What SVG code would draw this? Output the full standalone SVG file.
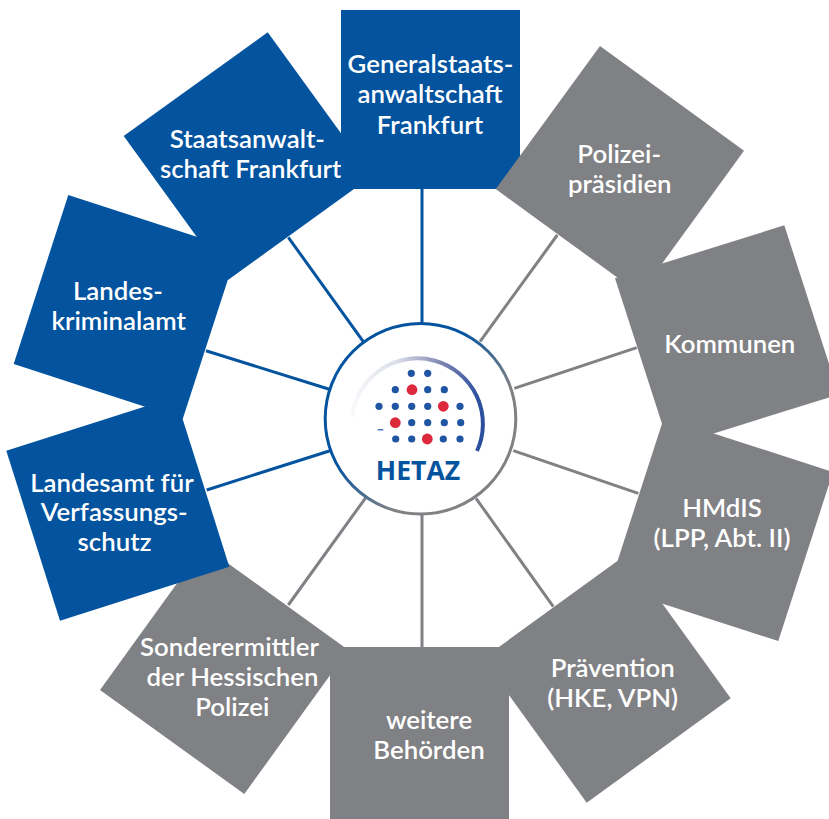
<svg xmlns="http://www.w3.org/2000/svg" width="829" height="819" viewBox="0 0 829 819">
<style>
.b{fill:#03539f}.g{fill:#808184}
.t{font-family:"Lato","Noto Sans",sans-serif;font-size:25.8px;font-weight:600;fill:#fff;text-anchor:middle}
.sb{stroke:#03539f;stroke-width:3;fill:none}.sg{stroke:#808184;stroke-width:3;fill:none}
.d{fill:#1f55a3}.r{fill:#dc2a3c}
</style>
<defs>
<linearGradient id="ring" gradientUnits="userSpaceOnUse" x1="365" y1="365" x2="480" y2="475">
<stop offset="0.3" stop-color="#03539f"/><stop offset="0.75" stop-color="#808184"/>
</linearGradient>
<linearGradient id="arc" gradientUnits="userSpaceOnUse" x1="352" y1="0" x2="480" y2="0">
<stop offset="0" stop-color="#f8f9fb"/><stop offset="0.35" stop-color="#dcdee9"/><stop offset="0.7" stop-color="#7f86b2"/><stop offset="1" stop-color="#2b4e9f"/>
</linearGradient>
</defs>
<rect width="829" height="819" fill="#fff"/>
<g id="connectors">
<line class="sb" x1="422" y1="189" x2="422" y2="324"/>
<line class="sb" x1="288.3" y1="237.3" x2="363.3" y2="341.7"/>
<line class="sb" x1="206" y1="350.7" x2="329.3" y2="389.3"/>
<line class="sb" x1="206.7" y1="490" x2="330" y2="450.7"/>
<line class="sg" x1="288.3" y1="605" x2="366" y2="497.3"/>
<line class="sg" x1="422" y1="515" x2="422" y2="647"/>
<line class="sg" x1="553.3" y1="606.7" x2="476" y2="498.3"/>
<line class="sg" x1="638.3" y1="493.3" x2="513.3" y2="450.7"/>
<line class="sg" x1="636.7" y1="347.7" x2="514.3" y2="388.3"/>
<line class="sg" x1="557.3" y1="235" x2="480" y2="341.7"/>
</g>
<g id="landeskriminalamt"><polygon class="b" points="68.3,195 237.5,250 182.7,419 13.7,364"/>
<text class="t" x="118" y="300">Landes-</text><text class="t" x="118.7" y="330">kriminalamt</text></g>
<g id="staatsanwaltschaft"><polygon class="b" points="267.7,32.3 372,176 228,280 123.7,136"/>
<text class="t" x="247.3" y="147.7">Staatsanwalt-</text><text class="t" x="250.7" y="177.7">schaft Frankfurt</text></g>
<g id="generalstaatsanwaltschaft"><rect class="b" x="341" y="10" width="179" height="179"/>
<text class="t" x="430.5" y="73.3">Generalstaats-</text><text class="t" x="430" y="103.3">anwaltschaft</text><text class="t" x="430" y="134">Frankfurt</text></g>
<g id="polizeipraesidien"><polygon class="g" points="600,46 744,150.7 640,294 495.7,189"/>
<text class="t" x="619.2" y="163.3">Polizei-</text><text class="t" x="619.8" y="192.7">präsidien</text></g>
<g id="kommunen"><polygon class="g" points="784.3,225.3 838.9,394.3 669.6,447.3 615,278.3"/>
<text class="t" x="729.8" y="353.3">Kommunen</text></g>
<g id="hmdis"><polygon class="g" points="664,417.4 833,472 778.3,641 609.3,586.4"/>
<text class="t" x="722" y="516.7">HMdIS</text><text class="t" x="722" y="546.7">(LPP, Abt. II)</text></g>
<g id="praevention"><polygon class="g" points="626.7,554.3 730.7,698.3 586.7,802.7 482.7,658.7"/>
<text class="t" x="612.7" y="676.7">Prävention</text><text class="t" x="612.7" y="706.7">(HKE, VPN)</text></g>
<g id="weitere"><rect class="g" x="330" y="647" width="179" height="179"/>
<text class="t" x="429" y="729">weitere</text><text class="t" x="429" y="759">Behörden</text></g>
<g id="sonderermittler"><polygon class="g" points="204,546 348.3,650 244.3,794 100,690"/>
<text class="t" x="229.5" y="656">Sonderermittler</text><text class="t" x="232.5" y="686">der Hessischen</text><text class="t" x="232.3" y="715.7">Polizei</text></g>
<g id="landesamt"><polygon class="b" points="175.6,396.7 229.3,566.7 60,620.7 6.3,450.7"/>
<text class="t" x="112" y="491.7">Landesamt für</text><text class="t" x="114.3" y="521">Verfassungs-</text><text class="t" x="114.5" y="551">schutz</text></g>
<g id="hetaz">
<circle cx="420.5" cy="418.7" r="95.3" fill="#fff" stroke="url(#ring)" stroke-width="3"/>
<path d="M352.3 416.5A65.5 65.5 0 1 1 477 451" fill="none" stroke="url(#arc)" stroke-width="4"/>
<g class="d">
<circle cx="411.3" cy="373.3" r="3.6"/><circle cx="427.7" cy="373.3" r="3.6"/>
<circle cx="395.3" cy="389.7" r="3.6"/><circle cx="427.7" cy="389.7" r="3.6"/><circle cx="444.3" cy="389.7" r="3.6"/>
<circle cx="379" cy="406.3" r="3.6"/><circle cx="395.3" cy="406.3" r="3.6"/><circle cx="411.7" cy="406.3" r="3.6"/><circle cx="427.7" cy="406.3" r="3.6"/><circle cx="460" cy="406.3" r="3.6"/>
<circle cx="411.7" cy="422.7" r="3.6"/><circle cx="427.7" cy="422.7" r="3.6"/><circle cx="444.3" cy="422.7" r="3.6"/><circle cx="460.7" cy="422.7" r="3.6"/>
<circle cx="395.7" cy="439" r="3.6"/><circle cx="411.7" cy="439" r="3.6"/><circle cx="443.3" cy="439" r="3.6"/><circle cx="460" cy="439" r="3.6"/>
<rect x="377.7" y="429.2" width="5.6" height="1.2"/>
</g>
<g class="r">
<circle cx="412" cy="389.7" r="5.4"/><circle cx="443.3" cy="406.3" r="5.4"/><circle cx="395.3" cy="422.7" r="5.4"/><circle cx="427.3" cy="439" r="5.4"/>
</g>
<text x="418" y="480" text-anchor="middle" font-family="'Open Sans','Noto Sans',sans-serif" font-weight="700" font-size="26.6" fill="#03539f">HETAZ</text>
</g>
</svg>
